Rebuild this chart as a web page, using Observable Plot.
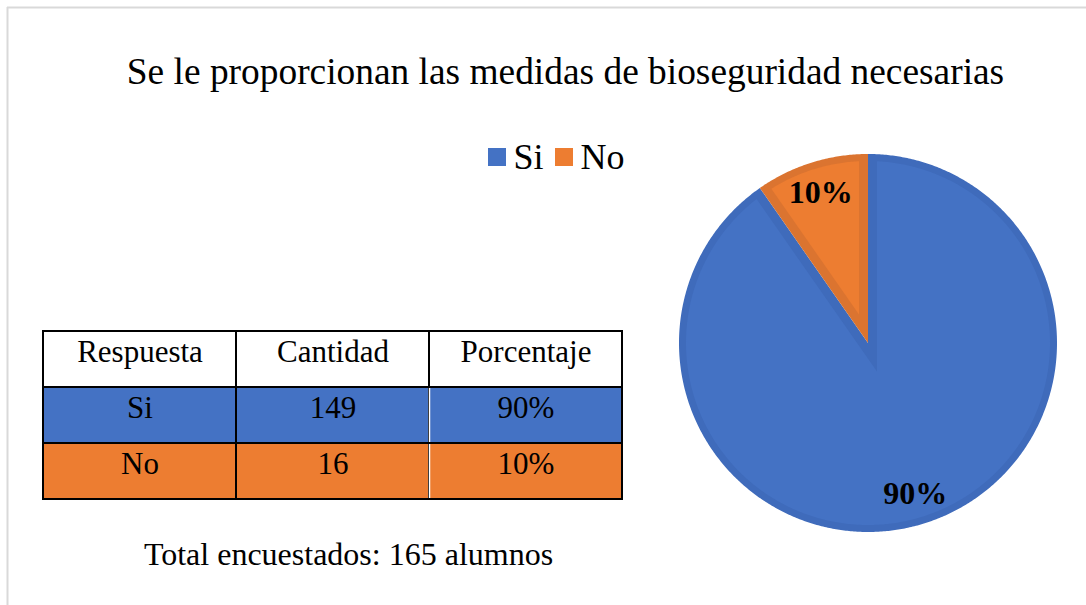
<!DOCTYPE html>
<html><head><meta charset="utf-8">
<script src="https://cdn.jsdelivr.net/npm/d3@7"></script>
<script src="https://cdn.jsdelivr.net/npm/@observablehq/plot@0.6"></script>
<style>body{margin:0;background:#fff}</style>
</head><body><div id="chart"></div>
<script>
// ---- data ----
const categories = ["Si", "No"];
const counts = [149, 16];
const percentLabels = ["90%", "10%"];
const tableHeader = ["Respuesta", "Cantidad", "Porcentaje"];
const titleText = "Se le proporcionan las medidas de bioseguridad necesarias";
const captionText = "Total encuestados: 165 alumnos";

// ---- style / layout ----
const colors = ["#4472C4", "#ED7D31"];
const bandColors = ["#3F6BBB", "#DB7430"];
const W = 1086, H = 605;
const font = "Liberation Serif, Times New Roman, serif";
const cx = 867.5, cy = 342.5, R = 189, wEdge = 9, wRim = 7;
const colX = [43, 236, 429, 622];
const rowY = [331, 387, 443, 499];
const legendX = [488, 555], legendY = 157, sw = 18;

// ---- pie geometry ----
const total = d3.sum(counts);
let acc = 0;
const slices = counts.map((v, i) => {
  const a0 = acc / total * 2 * Math.PI; acc += v;
  const a1 = acc / total * 2 * Math.PI;
  return {i, a0, a1, mid: (a0 + a1) / 2};
});
const pt = (a, r) => [cx + r * Math.sin(a), cy - r * Math.cos(a)];
function arcPts(a0, a1, r) {
  const n = Math.max(2, Math.ceil((a1 - a0) / (Math.PI / 360)));
  return d3.range(n + 1).map(k => pt(a0 + (a1 - a0) * k / n, r));
}
const outerShapes = slices.map(s => [[cx, cy], ...arcPts(s.a0, s.a1, R), [cx, cy]]);
const innerShapes = slices.map(s => {
  const n0 = [Math.cos(s.a0), Math.sin(s.a0)], n1 = [-Math.cos(s.a1), -Math.sin(s.a1)];
  const k = wEdge / (1 + n0[0] * n1[0] + n0[1] * n1[1]);
  const M = [cx + k * (n0[0] + n1[0]), cy + k * (n0[1] + n1[1])];
  const r = R - wRim, t = Math.sqrt(r * r - wEdge * wEdge), d = Math.atan2(wEdge, t);
  return [M, ...arcPts(s.a0 + d, s.a1 - d, r), M];
});
const pieLabels = slices.map(s => {
  const p = pt(s.mid, R * 0.835);
  return {x: p[0], y: p[1], text: percentLabels[s.i]};
});

// ---- table ----
const tableRows = [tableHeader, ...categories.map((c, i) => [c, String(counts[i]), percentLabels[i]])];
const cells = [];
tableRows.forEach((row, r) => row.forEach((txt, c) => cells.push({
  r, c, txt,
  x1: colX[c], x2: colX[c + 1], y1: rowY[r], y2: rowY[r + 1],
  fill: r === 0 ? "#fff" : colors[r - 1]
})));

// ---- legend ----
const legend = categories.map((c, i) => ({c, i, x: legendX[i]}));

const marks = [
  Plot.ruleY([7], {x1: 7, x2: W, stroke: "#d9d9d9", strokeWidth: 2}),
  Plot.ruleX([7], {y1: 7, y2: H, stroke: "#d9d9d9", strokeWidth: 2}),
  Plot.text([titleText], {x: 565, y: 72, text: d => d, fontSize: 37.4, fontFamily: font, fill: "#000", textAnchor: "middle", lineAnchor: "middle"}),
  Plot.rect(legend, {x1: d => d.x, x2: d => d.x + sw, y1: legendY - sw / 2, y2: legendY + sw / 2, fill: d => colors[d.i]}),
  Plot.text(legend, {x: d => d.x + sw + 7, y: legendY, text: d => d.c, fontSize: 36, fontFamily: font, fill: "#000", textAnchor: "start", lineAnchor: "middle"}),
  Plot.rect(cells, {x1: "x1", x2: "x2", y1: "y1", y2: "y2", fill: d => d.fill}),
  Plot.rect(cells, {x1: "x1", x2: "x2", y1: "y1", y2: "y2", fill: "none", stroke: "#000", strokeWidth: 2}),
  Plot.ruleX(cells.filter(d => d.r > 0 && d.c === 2), {x: "x1", y1: d => d.y1 + 1, y2: d => d.y2 - 1, stroke: "#fff", strokeWidth: 1.5}),
  Plot.text(cells, {x: d => (d.x1 + d.x2) / 2, y: d => (d.y1 + d.y2) / 2 - 7.5, text: "txt", fontSize: 31, fontFamily: font, fill: "#000", textAnchor: "middle", lineAnchor: "middle"}),
  Plot.text([captionText], {x: 348, y: 554, text: d => d, fontSize: 32, fontFamily: font, fill: "#000", textAnchor: "middle", lineAnchor: "middle"}),
  ...slices.map(s => Plot.line(outerShapes[s.i], {x: d => d[0], y: d => d[1], fill: bandColors[s.i], stroke: "none"})),
  ...slices.map(s => Plot.line(innerShapes[s.i], {x: d => d[0], y: d => d[1], fill: colors[s.i], stroke: "none"})),
  Plot.text(pieLabels, {x: "x", y: "y", text: "text", fontSize: 32, fontWeight: "bold", fontFamily: font, fill: "#000", textAnchor: "middle", lineAnchor: "middle"})
];

const chart = Plot.plot({
  width: W, height: H, margin: 0,
  x: {domain: [0, W], range: [0, W], axis: null},
  y: {domain: [0, H], range: [0, H], axis: null},
  style: {background: "#fff", fontFamily: font, overflow: "visible"},
  marks
});
document.getElementById("chart").appendChild(chart);
</script>
</body></html>
